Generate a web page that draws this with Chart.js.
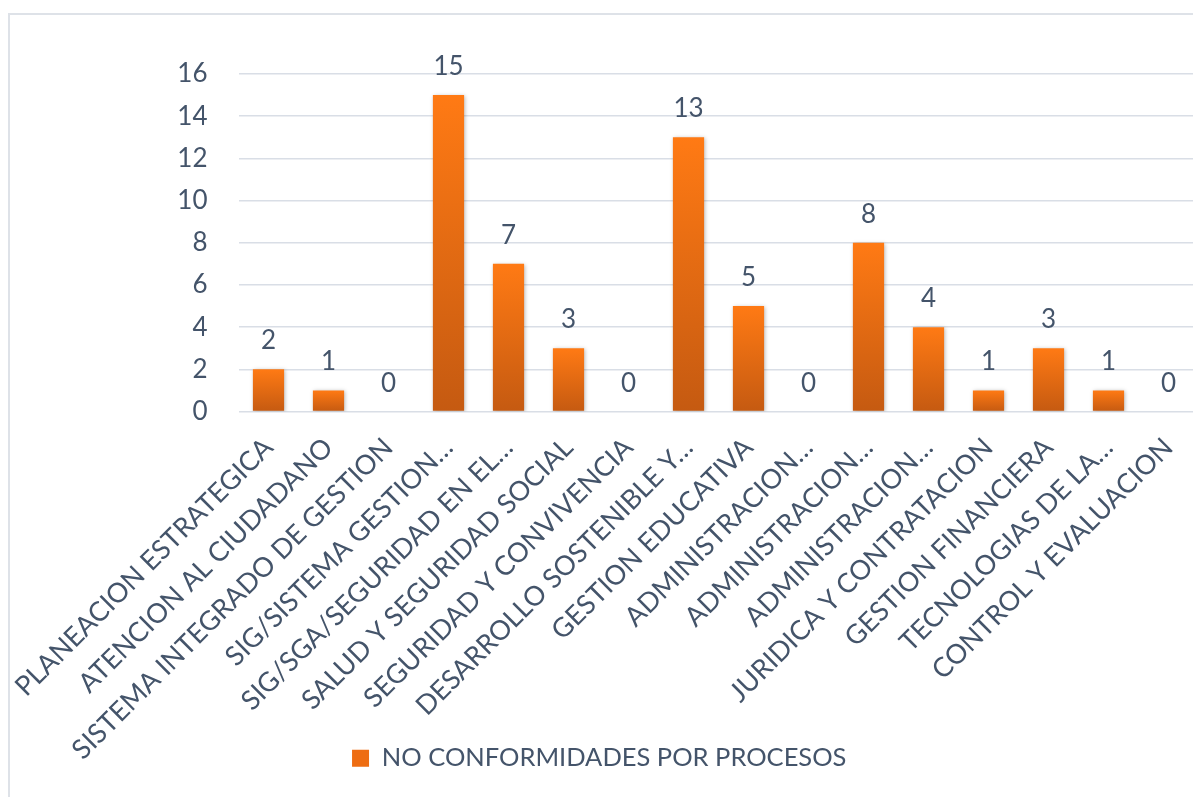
<!DOCTYPE html>
<html>
<head>
<meta charset="utf-8">
<script src="https://cdn.jsdelivr.net/npm/chart.js@4/dist/chart.umd.min.js"></script>
<style>
  html, body { margin: 0; padding: 0; background: #fff; overflow: hidden; }
  #frame { position: absolute; left: 8px; top: 13px; width: 1400px; height: 1000px;
           border-left: 2px solid #DEE2E8; border-top: 2px solid #DEE2E8; }
  #wrap { position: absolute; left: 0; top: 0; width: 1210px; height: 797px; }
</style>
</head>
<body>
<div id="frame"></div>
<div id="wrap"><canvas id="chart"></canvas></div>
<script>
// datos del grafico
var procesos = [
    'PLANEACION ESTRATEGICA',
    'ATENCION AL CIUDADANO',
    'SISTEMA INTEGRADO DE GESTION',
    'SIG/SISTEMA GESTION…',
    'SIG/SGA/SEGURIDAD EN EL…',
    'SALUD Y SEGURIDAD SOCIAL',
    'SEGURIDAD Y CONVIVENCIA',
    'DESARROLLO SOSTENIBLE Y…',
    'GESTION EDUCATIVA',
    'ADMINISTRACION…',
    'ADMINISTRACION…',
    'ADMINISTRACION…',
    'JURIDICA Y CONTRATACION',
    'GESTION FINANCIERA',
    'TECNOLOGIAS DE LA…',
    'CONTROL Y EVALUACION'
];
var noConformidades = [2, 1, 0, 15, 7, 3, 0, 13, 5, 0, 8, 4, 1, 3, 1, 0];
var serieNombre = 'NO CONFORMIDADES POR PROCESOS';
var yTicks = [0, 2, 4, 6, 8, 10, 12, 14, 16];

var textColor = '#44546A';
var fontFam = 'Lato, "Open Sans", sans-serif';

function barGradient(c) {
    var chart = c.chart;
    if (!chart.chartArea || c.type !== 'data') return '#F07015';
    var y = chart.scales.y;
    var top = y.getPixelForValue(c.raw);
    var bot = y.getPixelForValue(0);
    if (Math.abs(bot - top) < 1) return '#F07015';
    var g = chart.ctx.createLinearGradient(0, top, 0, bot);
    g.addColorStop(0, '#FF7A14');
    g.addColorStop(1, '#C55A11');
    return g;
}

// etiquetas encima de las barras
var valueLabels = {
    id: 'valueLabels',
    afterLayout: function(chart) {
        // las etiquetas largas del eje x pasan por debajo de la leyenda
        chart.scales.x.bottom = chart.height;
    },
    beforeDatasetsDraw: function(chart) {
        var ctx = chart.ctx;
        ctx.save();
        ctx.shadowColor = 'rgba(0,0,0,0.28)';
        ctx.shadowBlur = 4;
        ctx.shadowOffsetX = 1;
        ctx.shadowOffsetY = 1;
    },
    afterDatasetsDraw: function(chart) {
        var ctx = chart.ctx;
        ctx.restore();
        var meta = chart.getDatasetMeta(0);
        ctx.save();
        ctx.fillStyle = textColor;
        ctx.font = '26px ' + fontFam;
        ctx.textAlign = 'center';
        ctx.textBaseline = 'alphabetic';
        meta.data.forEach(function(bar, i) {
            ctx.fillText(String(noConformidades[i]), bar.x, bar.y - 20);
        });
        ctx.restore();
    }
};

var ctx = document.getElementById('chart').getContext('2d');
var chart = new Chart(ctx, {
    type: 'bar',
    data: {
        labels: procesos,
        datasets: [{
            label: serieNombre,
            data: noConformidades,
            backgroundColor: barGradient,
            borderWidth: 0,
            categoryPercentage: 1,
            barPercentage: 0.52
        }]
    },
    options: {
        responsive: true,
        maintainAspectRatio: false,
        animation: false,
        layout: { padding: { top: 74, right: 11.5, bottom: 16, left: 0 } },
        plugins: {
            tooltip: { enabled: false },
            legend: {
                position: 'bottom',
                labels: {
                    color: textColor,
                    font: { family: fontFam, size: 25.5 },
                    boxWidth: 17,
                    boxHeight: 17,
                    padding: 10,
                    generateLabels: function(chart) {
                        return [{
                            text: serieNombre,
                            fillStyle: '#EE6D12',
                            strokeStyle: '#EE6D12',
                            lineWidth: 0,
                            fontColor: textColor,
                            datasetIndex: 0
                        }];
                    }
                }
            }
        },
        scales: {
            x: {
                grid: { display: false },
                border: { display: false },
                ticks: {
                    color: textColor,
                    font: { family: fontFam, size: 27 },
                    maxRotation: 45,
                    minRotation: 45,
                    autoSkip: false,
                    padding: 12
                },
                afterFit: function(scale) { scale.height = 324; }
            },
            y: {
                min: 0,
                max: 16,
                afterBuildTicks: function(scale) {
                    scale.ticks = yTicks.map(function(v) { return { value: v }; });
                },
                grid: { color: '#D9DEE6', lineWidth: 1.5, drawTicks: false },
                border: { display: false },
                ticks: {
                    color: textColor,
                    font: { family: fontFam, size: 26 },
                    padding: 31
                },
                afterFit: function(scale) { scale.width = 238.5; }
            }
        }
    },
    plugins: [valueLabels]
});
</script>
</body>
</html>
